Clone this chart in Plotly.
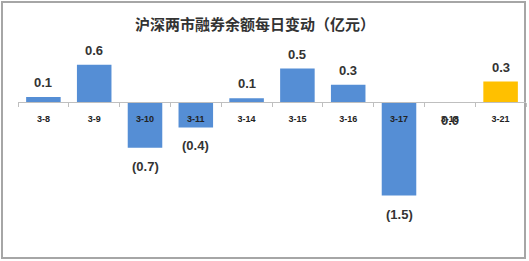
import plotly.graph_objects as go

dates = ["3-8", "3-9", "3-10", "3-11", "3-14", "3-15", "3-16", "3-17", "3-18", "3-21"]
changes = [0.08, 0.60, -0.74, -0.41, 0.06, 0.54, 0.28, -1.51, -0.004, 0.33]
title_text = "沪深两市融券余额每日变动（亿元）"

W, H = 529, 261
ML, MR, MT, MB = 18, 3, 40, 21
PW, PH = W - ML - MR, H - MT - MB
Y_MIN, Y_MAX = -2.226, 1.0

BLUE = "#558ED5"
GOLD = "#FFC000"
colors = [BLUE] * (len(dates) - 1) + [GOLD]


def fmt(v):
    return f"({abs(v):.1f})" if v <= -0.05 else f"{abs(v):.1f}"


fig = go.Figure()
fig.add_trace(go.Bar(
    x=dates, y=changes, marker=dict(color=colors, line=dict(width=0)),
    width=0.68, hoverinfo="skip", showlegend=False,
))

for d, v in zip(dates, changes):
    pos = v > 0
    fig.add_annotation(
        x=d, y=v, xref="x", yref="y", text=fmt(v), showarrow=False,
        yanchor="bottom" if pos else "top", yshift=5 if pos else -9,
        font=dict(family="Liberation Sans, Arial", size=13, color="#333333", weight="bold"),
    )

zero_pos = (0 - Y_MIN) / (Y_MAX - Y_MIN)


def px_x(x):
    return (x - ML) / PW


def px_y(y):
    return (MT + PH - y) / PH


fig.add_shape(type="rect", xref="paper", yref="paper",
              x0=px_x(2), x1=px_x(525), y0=px_y(258), y1=px_y(2),
              line=dict(color="#A6A6A6", width=2), layer="below")

fig.update_layout(
    width=W, height=H,
    margin=dict(l=ML, r=MR, t=MT, b=MB),
    paper_bgcolor="white", plot_bgcolor="white",
    title=dict(text=title_text, x=0.482, xanchor="center", y=1 - 25 / H, yanchor="middle",
               font=dict(family="Noto Sans CJK SC", size=15, color="#333333", weight="bold")),
    xaxis=dict(
        type="category", anchor="free", position=zero_pos,
        showline=True, linecolor="#BFBFBF", linewidth=1,
        ticks="outside", tickson="boundaries", ticklen=4, tickcolor="#BFBFBF",
        ticklabelstandoff=8,
        tickfont=dict(family="Liberation Sans, Arial", size=9, color="#222222", weight="bold"),
        showgrid=False, zeroline=False, layer="above traces",
    ),
    yaxis=dict(range=[Y_MIN, Y_MAX], visible=False, showgrid=False, zeroline=False),
    bargap=0.32,
)

fig.write_html("out.html")
